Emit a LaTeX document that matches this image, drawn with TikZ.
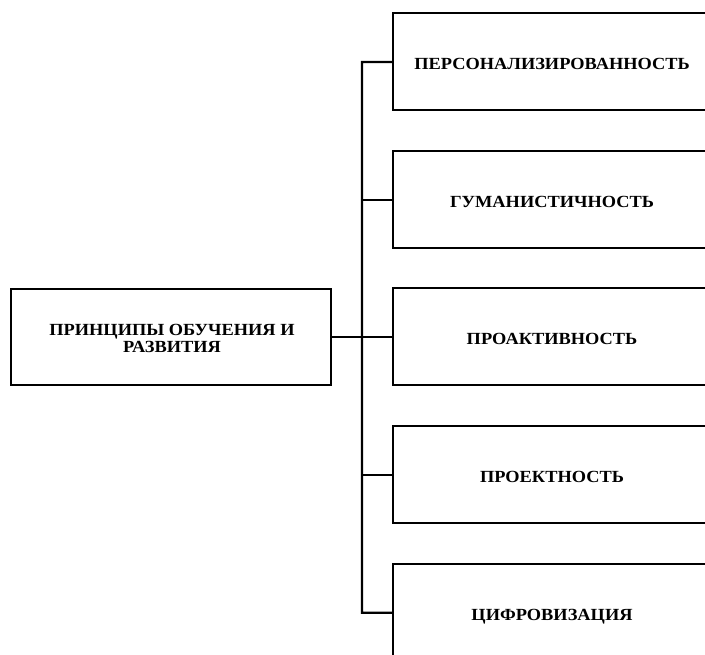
\documentclass[tikz,border=0pt]{standalone}
\usepackage{fontspec}
\setmainfont{Liberation Serif}[FakeStretch=1.08]
\begin{document}
\begin{tikzpicture}[x=1pt,y=-1pt,
  box/.style={draw=black, line width=2.2pt, fill=white},
  lbl/.style={font=\bfseries\fontsize{17}{16.7}\selectfont, align=center, inner sep=0pt},
  conn/.style={draw=black, line width=2.2pt}]
\useasboundingbox (0,0) rectangle (705,655);
\begin{scope}
\clip (0,0) rectangle (705,655);
% main box
\draw[box] (11,289) rectangle (331,385);
\node[lbl] (main) at (172,338.5) {ПРИНЦИПЫ ОБУЧЕНИЯ И\\РАЗВИТИЯ};
\coordinate (mainE) at (331,337);
% right boxes
\foreach \i/\t in {0/ПЕРСОНАЛИЗИРОВАННОСТЬ,1/ГУМАНИСТИЧНОСТЬ,2/ПРОАКТИВНОСТЬ,3/ПРОЕКТНОСТЬ,4/ЦИФРОВИЗАЦИЯ}{
  \draw[box] (393,13+137.7*\i) rectangle (715,110+137.7*\i);
  \node[lbl, anchor=base] (b\i) at (552,69.5+137.7*\i) {\t};
  \coordinate (w\i) at (393,62+137.7*\i);
}
\end{scope}
\coordinate (spT) at (362,62);
\coordinate (spB) at (362,612.8);
\coordinate (spM) at (362,337);
\draw[conn] (w0) -- (spT) -- (spB) -- (w4);
\foreach \i in {1,2,3}{\draw[conn] (362,62+137.7*\i) -- (w\i);}
\draw[conn] (mainE) -- (spM);
\end{tikzpicture}
\end{document}
